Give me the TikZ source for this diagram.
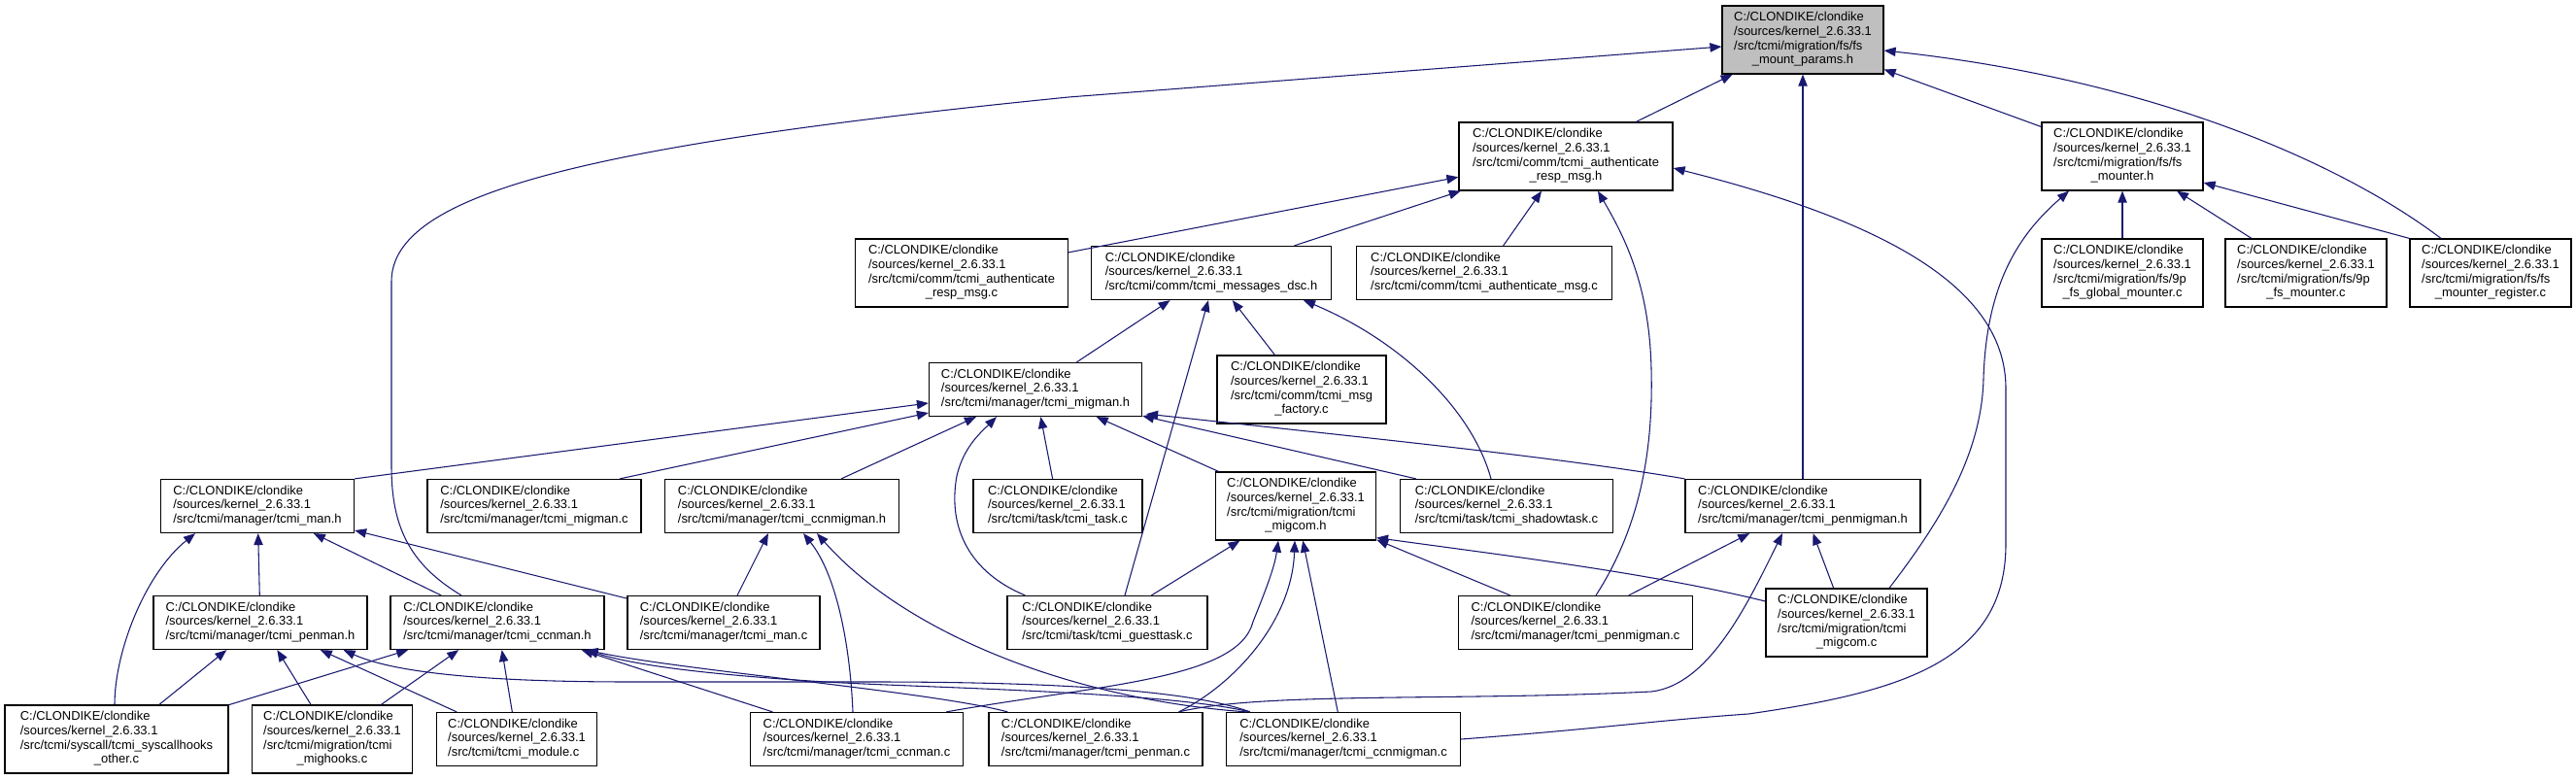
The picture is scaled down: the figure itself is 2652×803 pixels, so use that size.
\documentclass[tikz,border=0pt]{standalone}
\usepackage{fontspec}
\setmainfont{Liberation Sans}
\usepackage{xcolor}
\usepackage{tikz}
\usetikzlibrary{arrows.meta, calc}
\definecolor{edgeblue}{HTML}{191970}
\definecolor{rootgray}{HTML}{BFBFBF}
\newcommand{\filefont}{\fontsize{9.7}{11}\selectfont}
\newcommand{\incpath}[1]{\begin{tabular}{@{}l@{}}C:/CLONDIKE/clondike\\/sources/kernel\_2.6.33.1\\#1\end{tabular}}
\newcommand{\incpathwrap}[2]{\begin{tabular}{@{}l@{}}C:/CLONDIKE/clondike\\/sources/kernel\_2.6.33.1\\#1\\\multicolumn{1}{@{}c@{}}{#2}\end{tabular}}

\begin{document}
\begin{tikzpicture}[
    x=0.75pt, y=-0.75pt,
    >={Triangle[length=9pt,width=7pt]},
    srcfile/.style={rectangle, draw=black, fill=white, line width=0.9pt, inner sep=0pt, font=\filefont},
    srcfour/.style={srcfile, minimum height=52.5pt},
    srcthree/.style={srcfile, minimum height=41.25pt},
    dep/.style={->, draw=edgeblue, line width=0.8pt},
]
\useasboundingbox (0,0) rectangle (2652,803);

% Root header
\node[srcfour, fill=rootgray, minimum width=124.5pt] (params) at (1856,41) {\incpathwrap{/src/tcmi/migration/fs/fs}{\_mount\_params.h}};

% Direct includers
\node[srcfour, minimum width=165pt] (authresph) at (1612,161) {\incpathwrap{/src/tcmi/comm/tcmi\_authenticate}{\_resp\_msg.h}};
\node[srcfour, minimum width=124.5pt] (mounterh) at (2185,161) {\incpathwrap{/src/tcmi/migration/fs/fs}{\_mounter.h}};

% Comm and fs layer
\node[srcfour, minimum width=164.25pt] (authrespc) at (990,281) {\incpathwrap{/src/tcmi/comm/tcmi\_authenticate}{\_resp\_msg.c}};
\node[srcthree, minimum width=185.25pt] (msgsdsch) at (1247,281) {\incpath{/src/tcmi/comm/tcmi\_messages\_dsc.h}};
\node[srcthree, minimum width=197.25pt] (authmsgc) at (1528,281) {\incpath{/src/tcmi/comm/tcmi\_authenticate\_msg.c}};
\node[srcfour, minimum width=124.5pt] (globalmounterc) at (2185,281) {\incpathwrap{/src/tcmi/migration/fs/9p}{\_fs\_global\_mounter.c}};
\node[srcfour, minimum width=124.5pt] (fsmounterc) at (2374,281) {\incpathwrap{/src/tcmi/migration/fs/9p}{\_fs\_mounter.c}};
\node[srcfour, minimum width=124.5pt] (registerc) at (2564,281) {\incpathwrap{/src/tcmi/migration/fs/fs}{\_mounter\_register.c}};

% Migration manager
\node[srcthree, minimum width=164.25pt] (migmanh) at (1066,401) {\incpath{/src/tcmi/manager/tcmi\_migman.h}};
\node[srcfour, minimum width=130.5pt] (msgfactoryc) at (1340,401) {\incpathwrap{/src/tcmi/comm/tcmi\_msg}{\_factory.c}};

% Manager headers
\node[srcthree, minimum width=149.25pt] (manh) at (265,521) {\incpath{/src/tcmi/manager/tcmi\_man.h}};
\node[srcthree, minimum width=165pt] (migmanc) at (550,521) {\incpath{/src/tcmi/manager/tcmi\_migman.c}};
\node[srcthree, minimum width=180.75pt] (ccnmigmanh) at (805,521) {\incpath{/src/tcmi/manager/tcmi\_ccnmigman.h}};
\node[srcthree, minimum width=130.5pt] (taskc) at (1089,521) {\incpath{/src/tcmi/task/tcmi\_task.c}};
\node[srcfour, minimum width=123.75pt] (migcomh) at (1334,521) {\incpathwrap{/src/tcmi/migration/tcmi}{\_migcom.h}};
\node[srcthree, minimum width=164.25pt] (shadowtaskc) at (1551,521) {\incpath{/src/tcmi/task/tcmi\_shadowtask.c}};
\node[srcthree, minimum width=181.5pt] (penmigmanh) at (1856,521) {\incpath{/src/tcmi/manager/tcmi\_penmigman.h}};

\node[srcthree, minimum width=165pt] (penmanh) at (268,641) {\incpath{/src/tcmi/manager/tcmi\_penman.h}};
\node[srcthree, minimum width=165pt] (ccnmanh) at (512,641) {\incpath{/src/tcmi/manager/tcmi\_ccnman.h}};
\node[srcthree, minimum width=148.5pt] (manc) at (745,641) {\incpath{/src/tcmi/manager/tcmi\_man.c}};
\node[srcthree, minimum width=154.5pt] (guesttaskc) at (1140,641) {\incpath{/src/tcmi/task/tcmi\_guesttask.c}};
\node[srcthree, minimum width=180.75pt] (penmigmanc) at (1622,641) {\incpath{/src/tcmi/manager/tcmi\_penmigman.c}};
\node[srcfour, minimum width=124.5pt] (migcomc) at (1901,641) {\incpathwrap{/src/tcmi/migration/tcmi}{\_migcom.c}};

% Bottom sources
\node[srcfour, minimum width=172.5pt] (syscallhooksc) at (120,761) {\incpathwrap{/src/tcmi/syscall/tcmi\_syscallhooks}{\_other.c}};
\node[srcfour, minimum width=123.75pt] (mighooksc) at (342,761) {\incpathwrap{/src/tcmi/migration/tcmi}{\_mighooks.c}};
\node[srcthree, minimum width=123.75pt] (modulec) at (532,761) {\incpath{/src/tcmi/tcmi\_module.c}};
\node[srcthree, minimum width=164.25pt] (ccnmanc) at (882,761) {\incpath{/src/tcmi/manager/tcmi\_ccnman.c}};
\node[srcthree, minimum width=165pt] (penmanc) at (1128,761) {\incpath{/src/tcmi/manager/tcmi\_penman.c}};
\node[srcthree, minimum width=180.75pt] (ccnmigmanc) at (1383,761) {\incpath{/src/tcmi/manager/tcmi\_ccnmigman.c}};

% Edges into the root
\draw[dep] (authresph) -- (params);
\draw[dep] (mounterh) -- (params);
\draw[dep] (penmigmanh) -- (params);
\draw[dep] ($(registerc.north)+(-51,0)$) .. controls (2400,160) and (2200,80) .. ($(params.east)+(0,11)$);
\draw[dep] ($(ccnmanh.north)+(-37,0)$) .. controls (420,580) and (403,540) .. (403,480) -- (403,290) .. controls (403,200) and (600,150) .. (1100,100) -- ($(params.west)+(0,7)$);

% Edges into tcmi_authenticate_resp_msg.h
\draw[dep] (authrespc) -- (authresph);
\draw[dep] (msgsdsch) -- (authresph);
\draw[dep] (authmsgc) -- (authresph);
\draw[dep] ($(penmigmanc.north)+(21,0)$) .. controls (1690,540) and (1702,460) .. (1700,380) .. controls (1698,290) and (1670,240) .. ($(authresph.south)+(33,0)$);
\draw[dep] (ccnmigmanc.east) .. controls (1650,750) and (1700,742) .. (1800,735) .. controls (1960,712) and (2065,680) .. (2065,560) -- (2065,400) .. controls (2065,300) and (1950,230) .. ($(authresph.east)+(0,12)$);

% Edges into fs_mounter.h
\draw[dep] (globalmounterc) -- (mounterh);
\draw[dep] (fsmounterc) -- (mounterh);
\draw[dep] (registerc.north west) -- ($(mounterh.east)+(0,27)$);
\draw[dep] ($(migcomc.north)+(44,0)$) .. controls (1995,540) and (2040,470) .. (2042,390) .. controls (2045,290) and (2080,240) .. ($(mounterh.south)+(-55,0)$);

% Edges into tcmi_messages_dsc.h
\draw[dep] (migmanh) -- (msgsdsch);
\draw[dep] ($(guesttaskc.north)+(18,0)$) -- ($(msgsdsch.south)+(-3,0)$);
\draw[dep] (msgfactoryc) -- (msgsdsch);
\draw[dep] ($(shadowtaskc.north)+(-16,0)$) .. controls (1515,420) and (1440,350) .. ($(msgsdsch.south)+(95,0)$);

% Edges into tcmi_migman.h
\draw[dep] (manh.north east) -- ($(migmanh.west)+(0,14)$);
\draw[dep] ($(migmanc.north)+(88,0)$) -- ($(migmanh.west)+(0,24)$);
\draw[dep] (ccnmigmanh) -- (migmanh);
\draw[dep] (taskc) -- (migmanh);
\draw[dep] ($(guesttaskc.north west)+(19,0)$) .. controls (1000,590) and (975,545) .. (985,490) .. controls (992,460) and (1010,445) .. ($(migmanh.south)+(-40,0)$);
\draw[dep] (migcomh) -- (migmanh);
\draw[dep] ($(shadowtaskc.north west)+(17,0)$) -- ($(migmanh.south east)+(0,-1)$);
\draw[dep] (penmigmanh.north west) .. controls (1600,470) and (1400,450) .. ($(migmanh.south east)+(4,-3)$);

% Edges into tcmi_man.h
\draw[dep] (penmanh) -- (manh);
\draw[dep] (ccnmanh) -- (manh);
\draw[dep] (manc) -- (manh);
\draw[dep] ($(syscallhooksc.north)+(-2,0)$) .. controls (118,670) and (150,590) .. ($(manh.south)+(-64,0)$);

% Edges into tcmi_penman.h
\draw[dep] (syscallhooksc) -- (penmanh);
\draw[dep] (mighooksc) -- (penmanh);
\draw[dep] (modulec) -- (penmanh);
\draw[dep] ($(ccnmigmanc.north west)+(25,0)$) .. controls (1230,712) and (1100,702) .. (900,702) -- (650,702) .. controls (480,702) and (400,690) .. ($(penmanh.south east)+(-25,0)$);

% Edges into tcmi_ccnman.h
\draw[dep] (syscallhooksc) -- (ccnmanh);
\draw[dep] (mighooksc) -- (ccnmanh);
\draw[dep] (modulec) -- (ccnmanh);
\draw[dep] (ccnmanc) -- (ccnmanh);
\draw[dep] ($(penmanc.north west)+(20,0)$) .. controls (960,712) and (700,690) .. ($(ccnmanh.south east)+(-19,0)$);
\draw[dep] ($(ccnmigmanc.north west)+(25,0)$) .. controls (1200,712) and (950,708) .. (850,702) .. controls (720,694) and (650,684) .. ($(ccnmanh.south east)+(-19,0)$);

% Edges into tcmi_ccnmigman.h
\draw[dep] (manc) -- (ccnmigmanh);
\draw[dep] ($(ccnmanc.north)+(-4,0)$) .. controls (875,660) and (860,590) .. ($(ccnmigmanh.south)+(22,0)$);
\draw[dep] ($(ccnmigmanc.north west)+(22,0)$) .. controls (1100,720) and (930,650) .. ($(ccnmigmanh.south)+(36,0)$);

% Edges into tcmi_migcom.h
\draw[dep] (guesttaskc) -- (migcomh);
\draw[dep] ($(ccnmanc.north east)+(-18,0)$) .. controls (1130,705) and (1275,700) .. (1290,640) .. controls (1302,610) and (1312,585) .. ($(migcomh.south)+(-18,0)$);
\draw[dep] ($(penmanc.north east)+(-25,0)$) .. controls (1270,705) and (1330,640) .. ($(migcomh.south)+(-1,0)$);
\draw[dep] (ccnmigmanc) -- (migcomh);
\draw[dep] (penmigmanc) -- (migcomh);
\draw[dep] ($(migcomc.west)+(0,-22)$) .. controls (1700,590) and (1550,572) .. ($(migcomh.south east)+(0,-3)$);

% Edges into tcmi_penmigman.h
\draw[dep] (penmigmanc) -- (penmigmanh);
\draw[dep] ($(penmanc.north east)+(-25,0)$) .. controls (1300,712) and (1500,722) .. (1700,712) .. controls (1760,705) and (1800,620) .. ($(penmigmanh.south)+(-21,0)$);
\draw[dep] (migcomc) -- (penmigmanh);

\end{tikzpicture}
\end{document}
